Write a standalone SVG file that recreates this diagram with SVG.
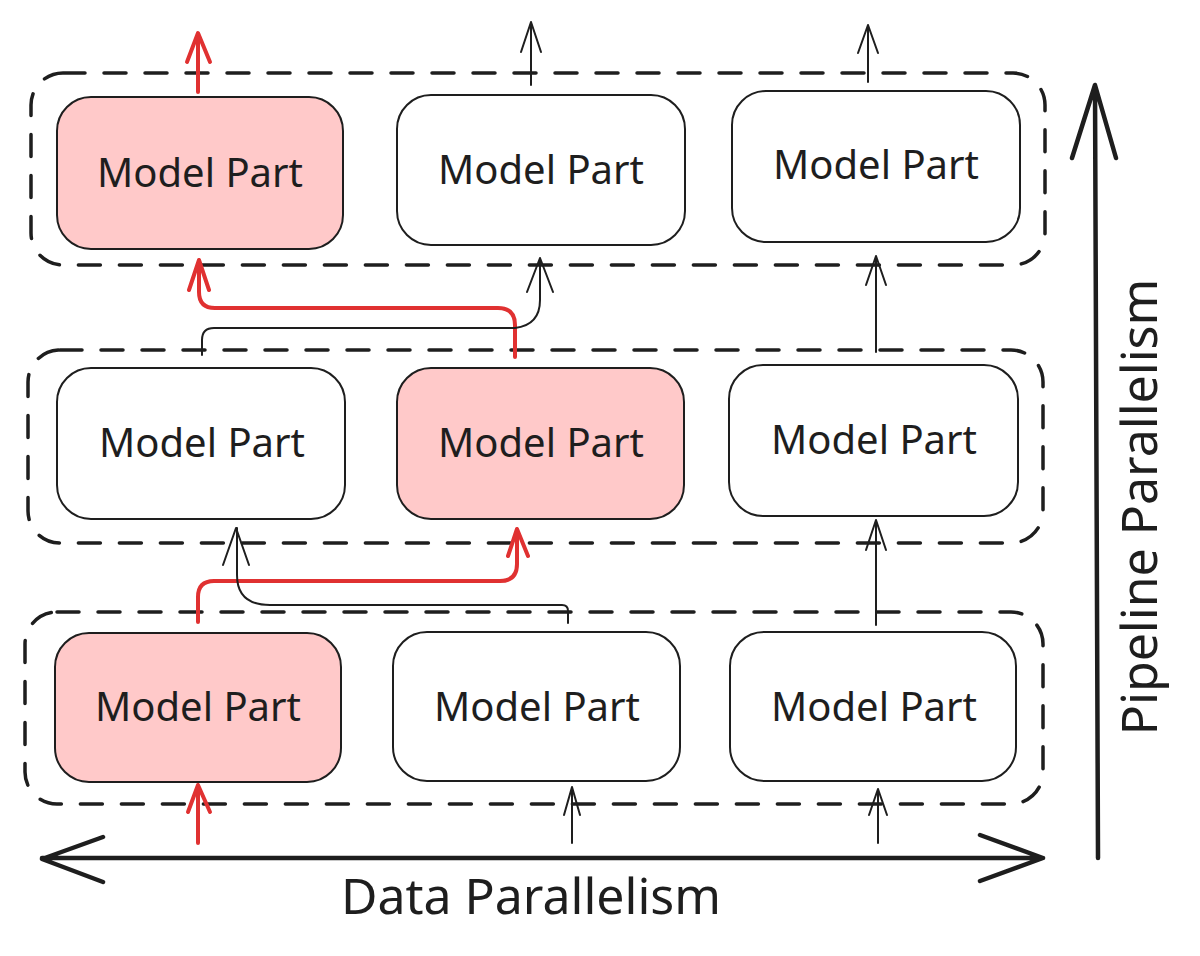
<svg xmlns="http://www.w3.org/2000/svg" width="1200" height="956" viewBox="0 0 1200 956">
<style>
.grp{fill:none;stroke:#1e1e1e;stroke-width:3.5;stroke-dasharray:22 19;stroke-linecap:round}
.node{fill:#ffffff;stroke:#1e1e1e;stroke-width:2}
.hl{fill:#ffc9c9}
.lbl{font-family:"Noto Sans","Open Sans",sans-serif;font-size:40px;fill:#1e1e1e;text-anchor:middle}
.axis{font-family:"Noto Sans","Open Sans",sans-serif;font-size:50px;fill:#1e1e1e;text-anchor:middle}
.k{fill:none;stroke:#1e1e1e;stroke-width:2;stroke-linecap:round;stroke-linejoin:round}
.r{fill:none;stroke:#e03131;stroke-width:4;stroke-linecap:round;stroke-linejoin:round}
.ax{fill:none;stroke:#1e1e1e;stroke-width:4.5;stroke-linecap:round;stroke-linejoin:round}
</style>
<rect width="1200" height="956" fill="#ffffff"/>
<g id="groups">
<rect class="grp" x="31" y="73" width="1014" height="192" rx="32"/>
<rect class="grp" x="28" y="350" width="1015" height="193" rx="32"/>
<rect class="grp" x="25" y="612" width="1018" height="192" rx="32"/>
</g>
<g id="n-top-1"><rect class="node hl" x="57" y="97" width="286" height="152" rx="34"/><text class="lbl" x="200" y="187">Model Part</text></g>
<g id="n-top-2"><rect class="node" x="397" y="95" width="288" height="150" rx="34"/><text class="lbl" x="541" y="184">Model Part</text></g>
<g id="n-top-3"><rect class="node" x="732" y="91" width="288" height="151" rx="34"/><text class="lbl" x="876" y="179">Model Part</text></g>
<g id="n-mid-1"><rect class="node" x="57" y="368" width="288" height="151" rx="34"/><text class="lbl" x="202" y="457">Model Part</text></g>
<g id="n-mid-2"><rect class="node hl" x="397" y="368" width="287" height="151" rx="34"/><text class="lbl" x="541" y="457">Model Part</text></g>
<g id="n-mid-3"><rect class="node" x="729" y="365" width="289" height="151" rx="34"/><text class="lbl" x="874" y="454">Model Part</text></g>
<g id="n-bot-1"><rect class="node hl" x="55" y="633" width="286" height="149" rx="34"/><text class="lbl" x="198" y="721">Model Part</text></g>
<g id="n-bot-2"><rect class="node" x="393" y="632" width="287" height="149" rx="34"/><text class="lbl" x="537" y="721">Model Part</text></g>
<g id="n-bot-3"><rect class="node" x="730" y="632" width="286" height="149" rx="34"/><text class="lbl" x="874" y="721">Model Part</text></g>
<g id="connectors">
<path class="r" d="M198 92 V35 M187 62 L198 33 L210 62"/>
<path class="k" d="M531 85 V22 M521 52 L531 22 L541 52"/>
<path class="k" d="M868 82 V25 M858 53 L868 25 L878 53"/>
<path class="r" d="M515 357 V325 Q515 308 498 308 H215 Q199 308 199 292 V262 M189 290 L199 260 L209 290"/>
<path class="k" d="M202 355 V340 Q202 328 214 328 H515 Q540 325 540 300 V258 M527 292 L540 258 L553 292"/>
<path class="k" d="M876 352 V256 M866 285 L876 256 L886 285"/>
<path class="r" d="M198 622 V597 Q198 581 214 581 H500 Q517 581 517 564 V531 M508 556 L517 529 L528 556"/>
<path class="k" d="M568 623 V611 Q568 605 562 605 H270 Q237 605 237 575 V528 M223 565 L236 528 L249 565"/>
<path class="k" d="M876 625 V520 M866 550 L876 520 L886 550"/>
<path class="r" d="M198 843 V788 M188 812 L198 785 L210 812"/>
<path class="k" d="M572 843 V787 M564 815 L572 787 L580 815"/>
<path class="k" d="M878 843 V789 M869 815 L878 789 L887 815"/>
</g>
<g id="axes">
<path class="ax" d="M42 858 H1043 M103 837 L42 859 L103 882 M980 835 L1043 858 L980 881"/>
<path class="ax" d="M1098 858 L1095 86 M1072 158 L1095 85 L1116 158"/>
<text class="axis" x="531" y="914">Data Parallelism</text>
<text class="axis" transform="translate(1157 507) rotate(-90)" x="0" y="0">Pipeline Parallelism</text>
</g>
</svg>
